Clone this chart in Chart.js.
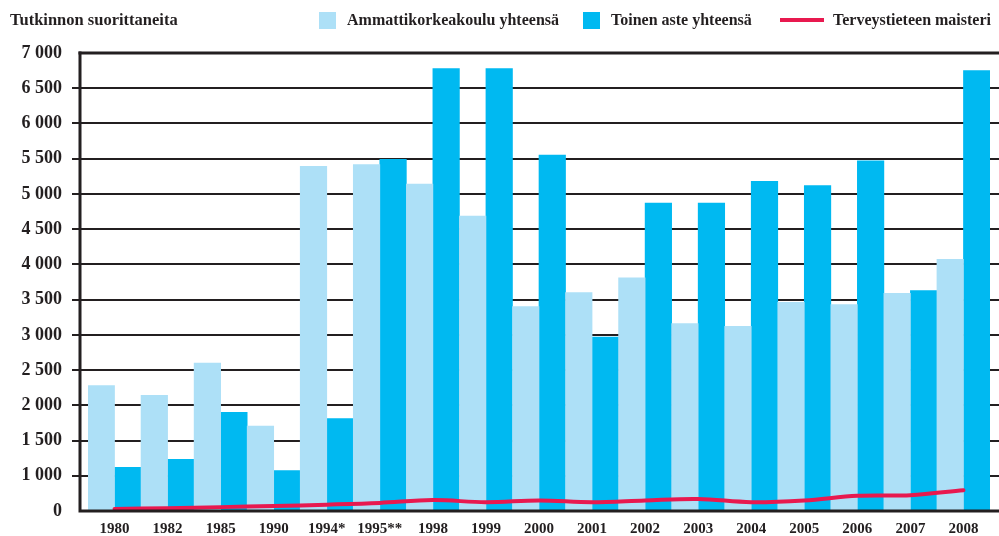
<!DOCTYPE html>
<html>
<head>
<meta charset="utf-8">
<script src="https://cdn.jsdelivr.net/npm/chart.js@4.4.1/dist/chart.umd.min.js"></script>
<style>
  body { margin: 0; background: #fff; }
  #wrap { position: relative; width: 999px; height: 536px; font-family: 'Liberation Serif', serif; font-weight: bold; color: #231f20; }
  #head { position: absolute; left: 0; top: 0; width: 999px; height: 40px; font-size: 16px; line-height: 20px; }
  #title { position: absolute; left: 10px; top: 10px; font-size: 16.5px; }
  .item { position: absolute; top: 10px; height: 20px; display: flex; align-items: center; white-space: nowrap; }
  .swatch { width: 17px; height: 17px; margin-right: 11px; }
  .stroke { width: 44px; height: 4px; margin-right: 9px; }
</style>
</head>
<body>
<div id="wrap">
  <canvas id="chart"></canvas>
  <div id="head"><span id="title">Tutkinnon suorittaneita</span></div>
</div>
<script>
const years = ['1980', '1982', '1985', '1990', '1994*', '1995**', '1998', '1999', '2000',
  '2001', '2002', '2003', '2004', '2005', '2006', '2007', '2008'];
const amk = [2280, 2140, 2600, 1705, 5390, 5415, 5140, 4686, 3400,
  3600, 3810, 3160, 3120, 3460, 3430, 3590, 4070];
const toinen = [1120, 1235, 1900, 1075, 1810, 5490, 6780, 6780, 5550,
  2970, 4870, 4870, 5180, 5120, 5470, 3630, 6750];
const maisteri = [60, 80, 110, 140, 180, 230, 310, 250, 300,
  250, 300, 340, 250, 300, 430, 450, 590];
const yTicks = [0, 1000, 1500, 2000, 2500, 3000, 3500, 4000, 4500, 5000, 5500, 6000, 6500, 7000];

const ink = '#231f20';

// the axis squeezes 0..1000 into one 500 step, like the original
function toAxis(v) {
  return v < 1000 ? 500 + v / 2 : v;
}

const LinearScale = Chart.registry.getScale('linear');
class GappedScale extends LinearScale {
  static id = 'gapped';
  static defaults = LinearScale.defaults;
  buildTicks() {
    return yTicks.map(v => ({value: v}));
  }
  getPixelForValue(value, index) {
    if (value === null || value === undefined) return NaN;
    return super.getPixelForValue(toAxis(value), index);
  }
}
Chart.register(GappedScale);

function fmt(v) {
  if (v < 1000) return String(v);
  return Math.floor(v / 1000) + ' ' + String(v % 1000).padStart(3, '0');
}

const frame = {
  id: 'frame',
  beforeDatasetsDraw(chart) {
    const {ctx, chartArea, scales: {y}} = chart;
    const axisX = chartArea.left - 8;
    ctx.save();
    ctx.strokeStyle = ink;
    y.ticks.forEach(t => {
      if (t.value === yTicks[0]) return;
      const top = t.value === yTicks[yTicks.length - 1];
      const py = Math.round(y.getPixelForValue(t.value));
      ctx.lineWidth = top ? 3 : 2;
      ctx.beginPath();
      ctx.moveTo(top ? axisX - 1.5 : axisX - 8, py);
      ctx.lineTo(chart.width, py);
      ctx.stroke();
    });
    ctx.restore();
  },
  afterDatasetsDraw(chart) {
    const {ctx, chartArea, scales: {y}} = chart;
    const axisX = chartArea.left - 8;
    const base = y.getPixelForValue(0);
    const top = Math.round(y.getPixelForValue(yTicks[yTicks.length - 1]));
    ctx.save();
    ctx.strokeStyle = ink;
    ctx.lineWidth = 3;
    ctx.beginPath();
    ctx.moveTo(axisX, top - 1.5);
    ctx.lineTo(axisX, base + 1.5);
    ctx.moveTo(axisX - 1.5, base);
    ctx.lineTo(chart.width, base);
    ctx.stroke();
    ctx.restore();
  }
};

Chart.defaults.font.family = "'Liberation Serif', serif";
Chart.defaults.font.weight = 'bold';
Chart.defaults.color = ink;

const chart = new Chart(document.getElementById('chart'), {
  type: 'bar',
  data: {
    labels: years,
    datasets: [
      {
        label: 'Ammattikorkeakoulu yhteensä',
        data: amk,
        backgroundColor: '#ade0f7',
        categoryPercentage: 1,
        barPercentage: 1,
        order: 1
      },
      {
        label: 'Toinen aste yhteensä',
        data: toinen,
        backgroundColor: '#00b9f1',
        categoryPercentage: 1,
        barPercentage: 1,
        order: 1
      },
      {
        type: 'line',
        label: 'Terveystieteen maisteri',
        data: maisteri,
        borderColor: '#e8194f',
        backgroundColor: '#e8194f',
        borderWidth: 4,
        borderCapStyle: 'round',
        pointRadius: 0,
        tension: 0.35,
        order: 0
      }
    ]
  },
  options: {
    responsive: true,
    maintainAspectRatio: false,
    animation: false,
    layout: {padding: {top: 53, right: 9, left: 0, bottom: 0}},
    plugins: {
      legend: {display: false},
      tooltip: {enabled: false}
    },
    scales: {
      x: {
        grid: {display: false, drawTicks: false},
        border: {display: false},
        ticks: {font: {size: 15, weight: 'bold'}, padding: 9, autoSkip: false, maxRotation: 0},
        afterFit(scale) { scale.height = 25; }
      },
      y: {
        type: 'gapped',
        min: 500,
        max: 7000,
        grid: {display: false, drawTicks: false},
        border: {display: false},
        ticks: {font: {size: 18, weight: 'bold'}, padding: 26, callback: fmt},
        afterFit(scale) {
          scale.width = 88;
          scale.paddingTop = 0;
          scale.paddingBottom = 0;
        }
      }
    }
  },
  plugins: [frame]
});

// legend row drawn as html next to the title
const legendLeft = [319, 583, 780];
const head = document.getElementById('head');
chart.data.datasets.forEach((ds, i) => {
  const item = document.createElement('div');
  item.className = 'item';
  item.style.left = legendLeft[i] + 'px';
  const mark = document.createElement('span');
  mark.className = ds.type === 'line' ? 'stroke' : 'swatch';
  mark.style.background = ds.type === 'line' ? ds.borderColor : ds.backgroundColor;
  const text = document.createElement('span');
  text.textContent = ds.label;
  item.appendChild(mark);
  item.appendChild(text);
  head.appendChild(item);
});
</script>
</body>
</html>
